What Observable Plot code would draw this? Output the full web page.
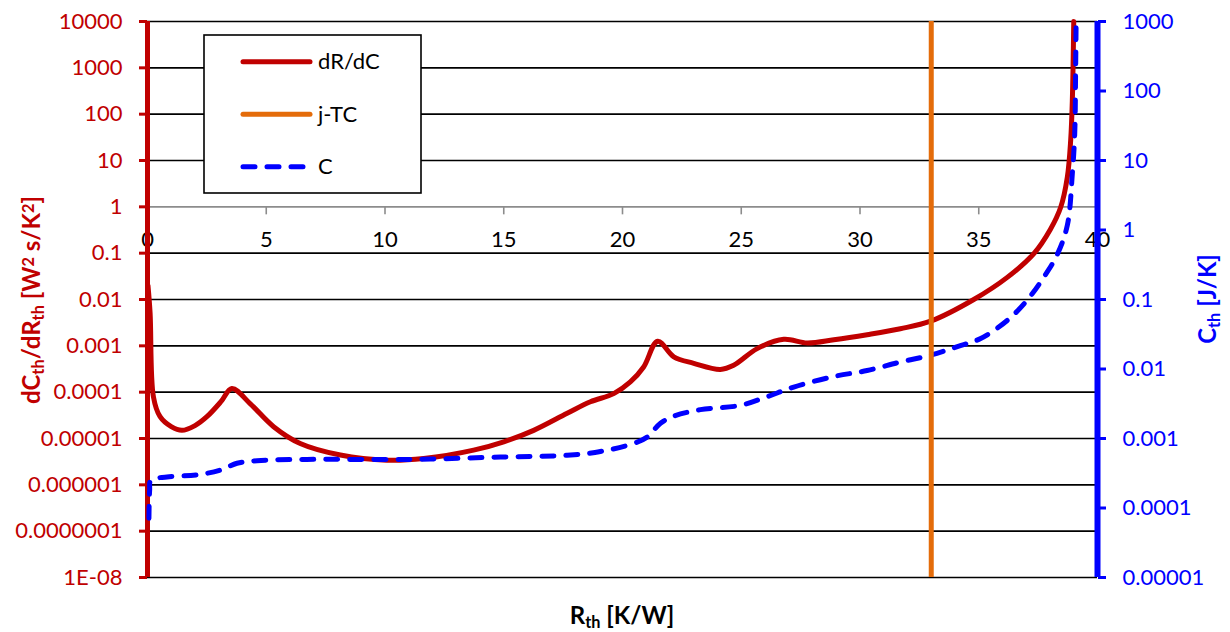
<!DOCTYPE html>
<html>
<head>
<meta charset="utf-8">
<script src="https://cdn.jsdelivr.net/npm/d3@7"></script>
<script src="https://cdn.jsdelivr.net/npm/@observablehq/plot@0.6"></script>
<style>
  html, body { margin: 0; padding: 0; background: #fff; }
  #chart { width: 1230px; height: 632px; }
</style>
</head>
<body>
<div id="chart"></div>
<script>
// Structure-function derivative dC_th/dR_th against cumulative thermal resistance
const derivR = [0.02, 0.11, 0.25, 0.53, 1.0, 1.45, 2.0, 2.5, 3.1, 3.55, 4.33, 5.31, 6.43, 8.12, 10.08,
  11.63, 13.73, 15.0, 16.26, 17.67, 18.65, 19.63, 20.33, 20.89, 21.48, 22.16, 23.0, 24.12, 24.68,
  25.67, 26.79, 27.78, 28.9, 30.3, 31.7, 32.97, 34.79, 36.2, 37.32, 38.02, 38.45, 38.73, 38.87, 38.94, 39.0];
const derivValue = [2.0e-2, 5.0e-3, 7.9e-5, 2.95e-5, 1.8e-5, 1.5e-5, 1.9e-5, 2.95e-5, 6.3e-5, 1.2e-4,
  5.6e-5, 1.8e-5, 7.8e-6, 4.4e-6, 3.4e-6, 3.7e-6, 5.6e-6, 8.5e-6, 1.5e-5, 3.5e-5, 6.2e-5, 9.3e-5,
  1.66e-4, 3.5e-4, 1.26e-3, 5.8e-4, 4.2e-4, 3.1e-4, 3.8e-4, 8.7e-4, 1.38e-3, 1.15e-3, 1.35e-3,
  1.74e-3, 2.34e-3, 3.4e-3, 1.0e-2, 3.0e-2, 9.8e-2, 0.33, 0.98, 4.4, 27, 195, 10000];

// Cumulative structure function C_th against R_th
const cumR = [0.06, 0.09, 0.14, 0.82, 2.08, 3.06, 3.77, 4.61, 6.71, 10.93, 14.86, 17.67, 19.07, 20.47,
  21.04, 21.6, 22.16, 23.28, 24.97, 26.09, 27.21, 28.9, 30.3, 31.7, 32.97, 34.1, 35.08, 36.2, 37.04,
  37.74, 38.3, 38.73, 38.94, 39.04, 39.08, 39.1];
const cumC = [7.1e-5, 1.8e-4, 2.5e-4, 2.8e-4, 3.0e-4, 3.5e-4, 4.4e-4, 4.8e-4, 5.0e-4, 5.0e-4, 5.4e-4,
  5.75e-4, 6.5e-4, 8.5e-4, 1.05e-3, 1.66e-3, 2.1e-3, 2.6e-3, 3.0e-3, 4.0e-3, 5.5e-3, 7.8e-3, 9.5e-3,
  1.26e-2, 1.58e-2, 2.1e-2, 2.75e-2, 5.0e-2, 9.8e-2, 0.21, 0.44, 1.17, 6.5, 24, 220, 1000];

// Junction-to-case thermal resistance marker
const junctionToCaseR = 33;

const xTicks = [0, 5, 10, 15, 20, 25, 30, 35, 40];
const leftTicks = [1e4, 1e3, 1e2, 1e1, 1, 1e-1, 1e-2, 1e-3, 1e-4, 1e-5, 1e-6, 1e-7, 1e-8];
const leftTickLabels = ["10000", "1000", "100", "10", "1", "0.1", "0.01", "0.001", "0.0001",
  "0.00001", "0.000001", "0.0000001", "1E-08"];
const rightTicks = [1e3, 1e2, 1e1, 1, 1e-1, 1e-2, 1e-3, 1e-4, 1e-5];
const rightTickLabels = ["1000", "100", "10", "1", "0.1", "0.01", "0.001", "0.0001", "0.00001"];
const seriesNames = ["dR/dC", "j-TC", "C"];

const RED = "#C00000", ORANGE = "#E46C0A", BLUE = "#0000FF";
const FONT = "Lato";

const leftDomain = [1e-8, 1e4];
const rightDomain = [1e-5, 1e3];

// Secondary (right) axis: map C_th onto the primary log scale so both share one y scale
function toLeft(c) {
  const [r0, r1] = rightDomain.map(Math.log10);
  const [l0, l1] = leftDomain.map(Math.log10);
  const t = (Math.log10(c) - r0) / (r1 - r0);
  return 10 ** (l0 + t * (l1 - l0));
}

const derivData = derivR.map((r, i) => ({r, v: derivValue[i]}));
const cumData = cumR.map((r, i) => ({r, c: cumC[i]}));
const leftLabel = new Map(leftTicks.map((v, i) => [v, leftTickLabels[i]]));
const rightPos = rightTicks.map(toLeft);
const rightLabel = new Map(rightPos.map((v, i) => [v, rightTickLabels[i]]));

const W = 1230, H = 632;
const mL = 147, mR = 133, mT = 21, mB = 55;

const svg = Plot.plot({
  width: W, height: H,
  marginLeft: mL, marginRight: mR, marginTop: mT, marginBottom: mB,
  style: {fontFamily: FONT, fontSize: "22px", background: "#fff", overflow: "visible"},
  x: {domain: [0, 40], axis: null},
  y: {type: "log", domain: leftDomain, axis: null},
  marks: [
    // horizontal gridlines
    Plot.ruleY(leftTicks.filter(v => v !== 1), {stroke: "#000", strokeWidth: 1.6}),
    // x axis sits on the value 1 of the primary axis
    Plot.ruleY([1], {stroke: "#8c8c8c", strokeWidth: 1.6}),
    Plot.ruleX(xTicks, {x: d => d, y1: 1, y2: 1, insetBottom: -8, stroke: "#8c8c8c", strokeWidth: 1.6}),
    Plot.text(xTicks, {x: d => d, y: 1, dy: 33, text: d => String(d), fill: "#000", fontSize: 22}),
    // primary axis line and ticks
    Plot.axisY({anchor: "left", ticks: leftTicks, tickFormat: d => leftLabel.get(d),
      color: RED, tickSize: 8, tickPadding: 17, strokeWidth: 3, fontSize: 22, label: null}),
    Plot.ruleX([0], {stroke: RED, strokeWidth: 5}),
    // series
    Plot.line(derivData, {x: "r", y: "v", stroke: RED, strokeWidth: 5, curve: "catmull-rom"}),
    Plot.line(cumData, {x: "r", y: d => toLeft(d.c), stroke: BLUE, strokeWidth: 5,
      strokeDasharray: "12 12", strokeLinecap: "round", curve: "catmull-rom"}),
    Plot.ruleX([junctionToCaseR], {stroke: ORANGE, strokeWidth: 5}),
    // secondary axis
    Plot.axisY({anchor: "right", ticks: rightPos, tickFormat: d => rightLabel.get(d),
      color: BLUE, tickSize: 8, tickPadding: 17, strokeWidth: 3, fontSize: 22, label: null}),
    Plot.ruleX([40], {stroke: BLUE, strokeWidth: 6})
  ]
});

document.getElementById("chart").appendChild(svg);

const root = d3.select(svg);

// axis titles with sub/superscripts
function richText(g, parts, size) {
  const t = g.append("text")
    .attr("text-anchor", "middle")
    .attr("font-family", FONT)
    .attr("font-weight", "bold")
    .attr("font-size", size);
  for (const [s, kind] of parts) {
    const ts = t.append("tspan").text(s);
    if (kind === "sub") ts.attr("baseline-shift", "-22%").attr("font-size", size * 0.68);
    if (kind === "sup") ts.attr("baseline-shift", "38%").attr("font-size", size * 0.68);
  }
  return t;
}

richText(root.append("g").attr("transform", "translate(40,300) rotate(-90)").attr("fill", RED),
  [["dC"], ["th", "sub"], ["/dR"], ["th", "sub"], [" [W"], ["2", "sup"], [" s/K"], ["2", "sup"], ["]"]], 24);

richText(root.append("g").attr("transform", "translate(1216,299) rotate(-90)").attr("fill", BLUE),
  [["C"], ["th", "sub"], [" [J/K]"]], 24);

richText(root.append("g").attr("transform", "translate(622,624)").attr("fill", "#000"),
  [["R"], ["th", "sub"], [" [K/W]"]], 24);

// legend
const lg = root.append("g");
lg.append("rect").attr("x", 204).attr("y", 35).attr("width", 217).attr("height", 158)
  .attr("fill", "#fff").attr("stroke", "#000").attr("stroke-width", 1.6);
const legendItems = [
  {name: seriesNames[0], color: RED, dash: null, y: 61.7},
  {name: seriesNames[1], color: ORANGE, dash: null, y: 114.3},
  {name: seriesNames[2], color: BLUE, dash: "12 12", y: 166.7}
];
for (const it of legendItems) {
  lg.append("line").attr("x1", 243).attr("x2", 310).attr("y1", it.y).attr("y2", it.y)
    .attr("stroke", it.color).attr("stroke-width", 5).attr("stroke-linecap", "round")
    .attr("stroke-dasharray", it.dash);
  lg.append("text").attr("x", 318).attr("y", it.y).attr("dy", "0.35em")
    .attr("text-anchor", "start")
    .attr("font-family", FONT).attr("font-size", 22).attr("fill", "#000").text(it.name);
}
</script>
</body>
</html>
